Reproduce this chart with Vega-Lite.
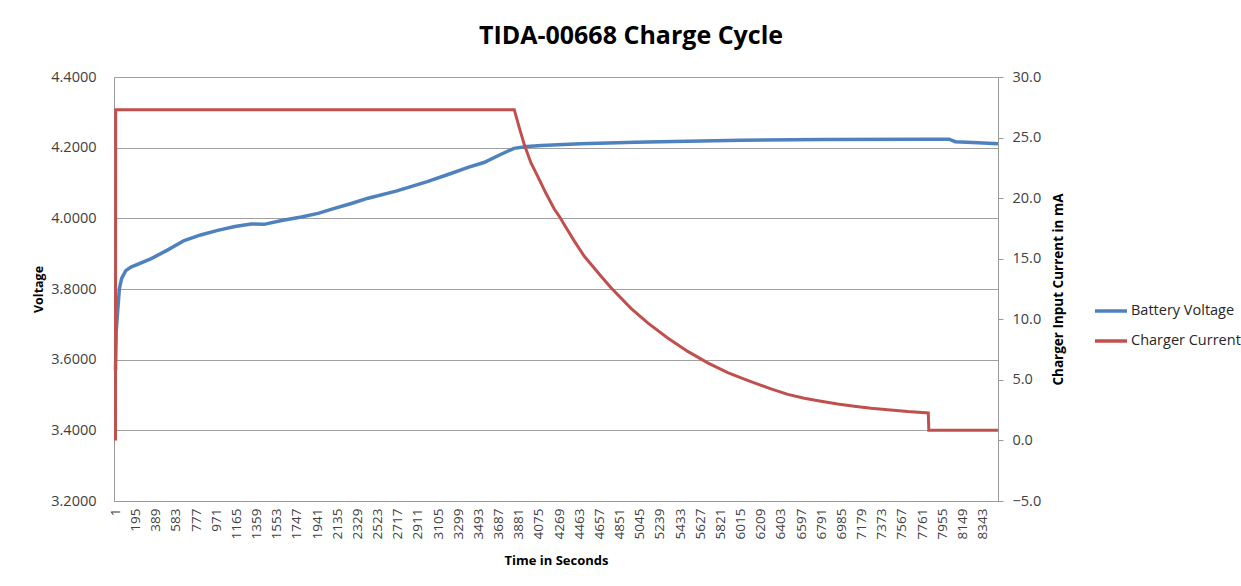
{
  "$schema": "https://vega.github.io/schema/vega-lite/v6.json",
  "autosize": "none",
  "width": 884,
  "height": 424,
  "padding": {"left": 114, "top": 77, "right": 243, "bottom": 85},
  "background": "white",
  "config": {
    "view": {"stroke": null},
    "font": "Open Sans",
    "axis": {"labelColor": "#404040", "titleColor": "#000000", "domainColor": "#9a9a9a", "tickColor": "#9a9a9a", "gridColor": "#a0a0a0", "labelFont": "Open Sans", "titleFont": "Open Sans"}
  },
  "title": {"text": "TIDA-00668 Charge Cycle", "fontSize": 25, "fontWeight": "bold", "font": "Open Sans", "color": "#000000", "anchor": "middle", "dx": 75, "offset": 20},
  "datasets": {
    "voltage": [
      {"t": 1, "v": 3.57, "series": "Battery Voltage"},
      {"t": 8, "v": 3.68, "series": "Battery Voltage"},
      {"t": 20, "v": 3.73, "series": "Battery Voltage"},
      {"t": 38, "v": 3.80, "series": "Battery Voltage"},
      {"t": 60, "v": 3.83, "series": "Battery Voltage"},
      {"t": 100, "v": 3.852, "series": "Battery Voltage"},
      {"t": 150, "v": 3.862, "series": "Battery Voltage"},
      {"t": 345, "v": 3.886, "series": "Battery Voltage"},
      {"t": 500, "v": 3.91, "series": "Battery Voltage"},
      {"t": 662, "v": 3.937, "series": "Battery Voltage"},
      {"t": 820, "v": 3.953, "series": "Battery Voltage"},
      {"t": 984, "v": 3.966, "series": "Battery Voltage"},
      {"t": 1150, "v": 3.977, "series": "Battery Voltage"},
      {"t": 1305, "v": 3.984, "series": "Battery Voltage"},
      {"t": 1430, "v": 3.983, "series": "Battery Voltage"},
      {"t": 1600, "v": 3.994, "series": "Battery Voltage"},
      {"t": 1788, "v": 4.004, "series": "Battery Voltage"},
      {"t": 1950, "v": 4.014, "series": "Battery Voltage"},
      {"t": 2107, "v": 4.028, "series": "Battery Voltage"},
      {"t": 2270, "v": 4.042, "series": "Battery Voltage"},
      {"t": 2431, "v": 4.057, "series": "Battery Voltage"},
      {"t": 2700, "v": 4.077, "series": "Battery Voltage"},
      {"t": 3000, "v": 4.104, "series": "Battery Voltage"},
      {"t": 3200, "v": 4.124, "series": "Battery Voltage"},
      {"t": 3400, "v": 4.145, "series": "Battery Voltage"},
      {"t": 3545, "v": 4.158, "series": "Battery Voltage"},
      {"t": 3700, "v": 4.18, "series": "Battery Voltage"},
      {"t": 3834, "v": 4.198, "series": "Battery Voltage"},
      {"t": 3960, "v": 4.203, "series": "Battery Voltage"},
      {"t": 4100, "v": 4.206, "series": "Battery Voltage"},
      {"t": 4475, "v": 4.211, "series": "Battery Voltage"},
      {"t": 5000, "v": 4.215, "series": "Battery Voltage"},
      {"t": 5117, "v": 4.216, "series": "Battery Voltage"},
      {"t": 6020, "v": 4.221, "series": "Battery Voltage"},
      {"t": 6817, "v": 4.223, "series": "Battery Voltage"},
      {"t": 7800, "v": 4.224, "series": "Battery Voltage"},
      {"t": 8020, "v": 4.224, "series": "Battery Voltage"},
      {"t": 8080, "v": 4.217, "series": "Battery Voltage"},
      {"t": 8300, "v": 4.214, "series": "Battery Voltage"},
      {"t": 8490, "v": 4.211, "series": "Battery Voltage"}
    ],
    "current": [
      {"t": 1, "i": 0.0, "series": "Charger Current"},
      {"t": 3, "i": 27.3, "series": "Charger Current"},
      {"t": 3837, "i": 27.3, "series": "Charger Current"},
      {"t": 3886, "i": 25.8, "series": "Charger Current"},
      {"t": 3934, "i": 24.4, "series": "Charger Current"},
      {"t": 3998, "i": 22.9, "series": "Charger Current"},
      {"t": 4063, "i": 21.8, "series": "Charger Current"},
      {"t": 4142, "i": 20.4, "series": "Charger Current"},
      {"t": 4222, "i": 19.1, "series": "Charger Current"},
      {"t": 4270, "i": 18.5, "series": "Charger Current"},
      {"t": 4319, "i": 17.8, "series": "Charger Current"},
      {"t": 4415, "i": 16.45, "series": "Charger Current"},
      {"t": 4511, "i": 15.2, "series": "Charger Current"},
      {"t": 4672, "i": 13.55, "series": "Charger Current"},
      {"t": 4768, "i": 12.6, "series": "Charger Current"},
      {"t": 4960, "i": 10.9, "series": "Charger Current"},
      {"t": 5121, "i": 9.7, "series": "Charger Current"},
      {"t": 5313, "i": 8.45, "series": "Charger Current"},
      {"t": 5506, "i": 7.35, "series": "Charger Current"},
      {"t": 5698, "i": 6.4, "series": "Charger Current"},
      {"t": 5891, "i": 5.6, "series": "Charger Current"},
      {"t": 6019, "i": 5.16, "series": "Charger Current"},
      {"t": 6146, "i": 4.75, "series": "Charger Current"},
      {"t": 6307, "i": 4.26, "series": "Charger Current"},
      {"t": 6468, "i": 3.8, "series": "Charger Current"},
      {"t": 6627, "i": 3.48, "series": "Charger Current"},
      {"t": 6788, "i": 3.23, "series": "Charger Current"},
      {"t": 6948, "i": 3.0, "series": "Charger Current"},
      {"t": 7108, "i": 2.82, "series": "Charger Current"},
      {"t": 7269, "i": 2.65, "series": "Charger Current"},
      {"t": 7430, "i": 2.53, "series": "Charger Current"},
      {"t": 7622, "i": 2.38, "series": "Charger Current"},
      {"t": 7820, "i": 2.27, "series": "Charger Current"},
      {"t": 7825, "i": 0.84, "series": "Charger Current"},
      {"t": 8490, "i": 0.84, "series": "Charger Current"}
    ]
  },
  "encoding": {
    "x": {
      "field": "t", "type": "quantitative",
      "scale": {"domain": [-13.4, 8490.6], "nice": false, "zero": false},
      "axis": {
        "title": "Time in Seconds", "titleFontSize": 13, "titleFontWeight": "bold",
        "titleX": 442, "titleY": 59, "titleBaseline": "middle", "titleAlign": "center",
        "values": [1,195,389,583,777,971,1165,1359,1553,1747,1941,2135,2329,2523,2717,2911,3105,3299,3493,3687,3881,4075,4269,4463,4657,4851,5045,5239,5433,5627,5821,6015,6209,6403,6597,6791,6985,7179,7373,7567,7761,7955,8149,8343],
        "labelAngle": 270, "labelFontSize": 13.5, "labelPadding": 7, "ticks": false, "grid": false,
        "labelOverlap": false, "format": "d", "labelBound": false, "labelFlush": false
      }
    },
    "color": {
      "field": "series", "type": "nominal",
      "scale": {"domain": ["Battery Voltage", "Charger Current"], "range": ["#4F81BD", "#C0504D"]},
      "legend": {
        "title": null, "orient": "none", "legendX": 979, "legendY": 216,
        "symbolType": "stroke", "symbolSize": 1024, "symbolStrokeWidth": 3.5,
        "labelFontSize": 14.5, "labelColor": "#262626", "labelFont": "Open Sans", "labelOffset": 2, "rowPadding": 5
      }
    }
  },
  "layer": [
    {
      "data": {"name": "voltage"},
      "mark": {"type": "line", "strokeWidth": 3.5},
      "encoding": {
        "y": {
          "field": "v", "type": "quantitative",
          "scale": {"domain": [3.2, 4.4], "nice": false, "zero": false},
          "axis": {
            "title": "Voltage", "titleFontSize": 12.5, "titleFontWeight": "bold",
            "titleX": -76, "titleY": 212, "titleAngle": 270, "titleBaseline": "middle", "titleAlign": "center",
            "values": [3.2, 3.4, 3.6, 3.8, 4.0, 4.2, 4.4], "format": ".4f",
            "labelFontSize": 14.5, "labelPadding": 18, "ticks": false, "grid": true, "gridWidth": 1
          }
        }
      }
    },
    {
      "data": {"name": "current"},
      "mark": {"type": "line", "strokeWidth": 3},
      "encoding": {
        "y": {
          "field": "i", "type": "quantitative",
          "scale": {"domain": [-5, 30], "nice": false, "zero": false},
          "axis": {
            "orient": "right",
            "title": "Charger Input Current in mA", "titleFontSize": 13.5, "titleFontWeight": "bold",
            "titleX": 60, "titleY": 212, "titleAngle": 270, "titleBaseline": "middle", "titleAlign": "center",
            "values": [-5, 0, 5, 10, 15, 20, 25, 30], "format": ".1f",
            "labelFontSize": 14.5, "labelPadding": 9, "ticks": true, "tickSize": 5, "grid": false
          }
        }
      }
    }
  ],
  "resolve": {"scale": {"y": "independent"}}
}
